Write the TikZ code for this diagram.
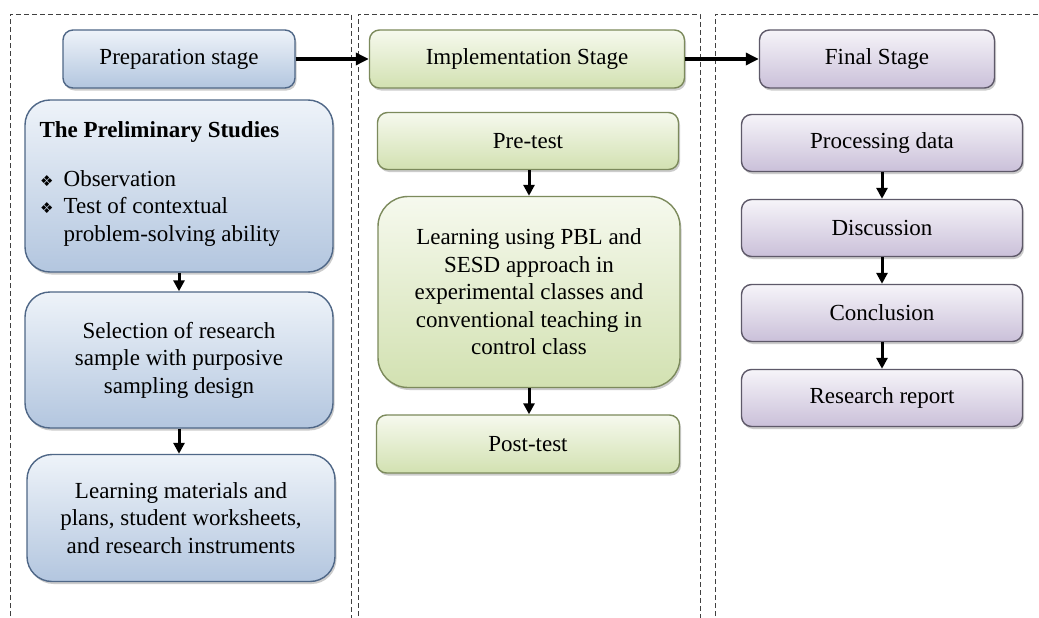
\documentclass[tikz,border=0pt]{standalone}
\usepackage{fontspec}
\setmainfont{Liberation Serif}
\newfontfamily\symfont{DejaVu Sans}
\usetikzlibrary{shadows,arrows.meta}
\definecolor{btop}{HTML}{EEF3F9}
\definecolor{bbot}{HTML}{B3C6DF}
\definecolor{bline}{HTML}{4F6787}
\definecolor{gtop}{HTML}{F6F9EE}
\definecolor{gbot}{HTML}{D2E1B1}
\definecolor{gline}{HTML}{7C8A5C}
\definecolor{ptop}{HTML}{F6F4F9}
\definecolor{pbot}{HTML}{CAC0D9}
\definecolor{pline}{HTML}{5E5969}
\definecolor{dashc}{HTML}{404040}
\begin{document}
\begin{tikzpicture}[x=1pt,y=-1pt,
  every node/.style={font=\fontsize{23}{27.5}\selectfont},
  boxbase/.style={line width=1.4pt, align=center, inner sep=0pt,
    drop shadow={opacity=0.4, shadow xshift=1.5pt, shadow yshift=-2.5pt}},
  bluebox/.style={boxbase, draw=bline, top color=btop, bottom color=bbot},
  greenbox/.style={boxbase, draw=gline, top color=gtop, bottom color=gbot},
  purplebox/.style={boxbase, draw=pline, top color=ptop, bottom color=pbot},
  panel/.style={draw=dashc, line width=0.9pt, dash pattern=on 5pt off 3pt},
  flow/.style={-{Triangle[length=11pt,width=11pt]}, line width=3pt, black},
  hflow/.style={-{Triangle[length=13pt,width=12pt]}, line width=3.6pt, black}]
\useasboundingbox (0,0) rectangle (1039,618);
\clip (0,0) rectangle (1039,618);
\fill[white] (0,0) rectangle (1039,618);
% panels
\draw[panel] (10,640) -- (10,14) -- (351,14) -- (351,640);
\draw[panel] (358,640) -- (358,14) -- (700,14) -- (700,640);
\draw[panel] (715,640) -- (715,14) -- (1045,14);
% column 1
\node[bluebox, rounded corners=10pt, minimum width=232pt, minimum height=58pt] (prep) at (179,59) {Preparation stage};
\node[bluebox, rounded corners=25pt, minimum width=308pt, minimum height=172pt] (prelim) at (179,186) {};
\node[anchor=west, font=\fontsize{23}{27.5}\selectfont\bfseries] (prelimtitle) at (36,132) {The Preliminary Studies};
\node[anchor=north west, inner sep=0pt] (prelimlist) at (40,167) {%
  \begin{tabular}{@{}l@{\hspace{10pt}}l@{}}
  {\symfont\fontsize{15}{15}\selectfont ❖} & Observation\\
  {\symfont\fontsize{15}{15}\selectfont ❖} & Test of contextual\\
   & problem-solving ability
  \end{tabular}};
\node[bluebox, rounded corners=25pt, minimum width=308pt, minimum height=136pt] (select) at (179,360) {Selection of research\\ sample with purposive\\ sampling design};
\node[bluebox, rounded corners=25pt, minimum width=308pt, minimum height=127pt] (mat) at (181,518) {Learning materials and\\ plans, student worksheets,\\ and research instruments};
% column 2
\node[greenbox, rounded corners=10pt, minimum width=315pt, minimum height=58pt] (impl) at (527,59) {Implementation Stage};
\node[greenbox, rounded corners=10pt, minimum width=301pt, minimum height=57pt] (pre) at (528,141) {Pre-test};
\node[greenbox, rounded corners=30pt, minimum width=302pt, minimum height=191pt] (learn) at (529,292) {Learning using PBL and\\ SESD approach in\\ experimental classes and\\ conventional teaching in\\ control class};
\node[greenbox, rounded corners=10pt, minimum width=303pt, minimum height=58pt] (post) at (528,444) {Post-test};
% column 3
\node[purplebox, rounded corners=10pt, minimum width=235pt, minimum height=58pt] (final) at (877,59) {Final Stage};
\node[purplebox, rounded corners=10pt, minimum width=281pt, minimum height=57pt] (proc) at (882,143) {Processing data};
\node[purplebox, rounded corners=10pt, minimum width=281pt, minimum height=57pt] (disc) at (882,228) {Discussion};
\node[purplebox, rounded corners=10pt, minimum width=281pt, minimum height=57pt] (conc) at (882,313) {Conclusion};
\node[purplebox, rounded corners=10pt, minimum width=281pt, minimum height=57pt] (rep) at (882,398) {Research report};
% connectors
\draw[hflow] (prep.east) -- (impl.west);
\draw[hflow] (impl.east) -- (final.west);
\draw[flow] (prelim.south) -- (select.north);
\draw[flow] (select.south) -- (select.south |- mat.north);
\draw[flow] (pre.south -| learn.north) -- (learn.north);
\draw[flow] (learn.south) -- (learn.south |- post.north);
\draw[flow] (proc.south) -- (disc.north);
\draw[flow] (disc.south) -- (conc.north);
\draw[flow] (conc.south) -- (rep.north);
\end{tikzpicture}
\end{document}
